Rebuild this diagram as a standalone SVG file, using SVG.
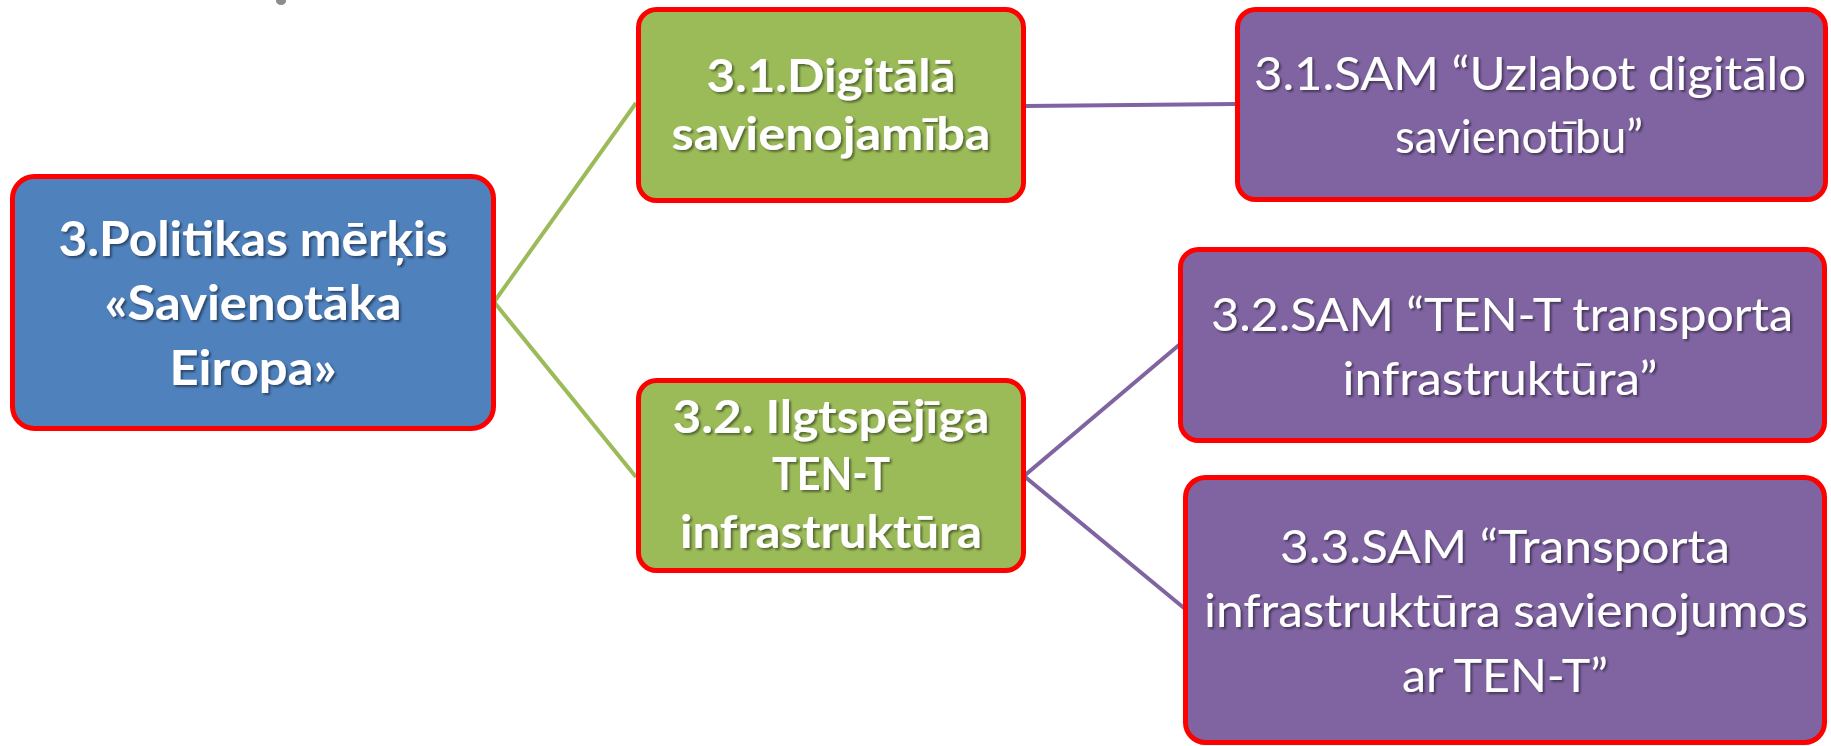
<svg xmlns="http://www.w3.org/2000/svg" width="1831" height="746" viewBox="0 0 1831 746">
<defs>
<filter id="ts" x="-10%" y="-20%" width="120%" height="140%">
<feDropShadow dx="2" dy="2" stdDeviation="1.2" flood-color="#000" flood-opacity="0.45"/>
</filter>
<style>
.box{stroke:#FF0000;stroke-width:5}
.blue{fill:#4F81BD}
.green{fill:#9BBB59}
.purple{fill:#8064A2}
text{fill:#FFFFFF;font-family:Lato,"Open Sans",sans-serif;text-anchor:middle;filter:url(#ts)}
.b{font-weight:bold}
.t1{font-size:48px}
.t2{font-size:46px}
.t3{font-size:47px}
.cg{stroke:#9BBB59;stroke-width:4;fill:none}
.cp{stroke:#8064A2;stroke-width:4;fill:none}
</style>
</defs>
<rect width="1831" height="746" fill="#FFFFFF"/>
<ellipse cx="281" cy="1" rx="5" ry="4" fill="#8C8C8C"/>
<g id="connectors">
<polyline class="cg" points="636,103 494,302 636,477"/>
<line class="cp" x1="1026" y1="106" x2="1236" y2="104"/>
<polyline class="cp" points="1179,345 1024,476 1184,608"/>
</g>
<g id="n_root">
<rect class="box blue" x="12.5" y="176.5" width="481" height="252" rx="22"/>
<text class="b t1" x="253" y="256" textLength="389" lengthAdjust="spacingAndGlyphs">3.Politikas mērķis</text>
<text class="b t1" x="253" y="320" textLength="297" lengthAdjust="spacingAndGlyphs">«Savienotāka</text>
<text class="b t1" x="253" y="385" textLength="167" lengthAdjust="spacingAndGlyphs">Eiropa»</text>
</g>
<g id="n_31">
<rect class="box green" x="638.5" y="9.5" width="385" height="191" rx="18"/>
<text class="b t2" x="831" y="92" textLength="249" lengthAdjust="spacingAndGlyphs">3.1.Digitālā</text>
<text class="b t2" x="831" y="150" textLength="319" lengthAdjust="spacingAndGlyphs">savienojamība</text>
</g>
<g id="n_32">
<rect class="box green" x="638.5" y="380.5" width="385" height="190" rx="18"/>
<text class="b t2" x="831" y="433" textLength="317" lengthAdjust="spacingAndGlyphs">3.2. Ilgtspējīga</text>
<text class="b t2" x="831" y="490" textLength="118" lengthAdjust="spacingAndGlyphs">TEN-T</text>
<text class="b t2" x="831" y="548" textLength="302" lengthAdjust="spacingAndGlyphs">infrastruktūra</text>
</g>
<g id="n_sam31">
<rect class="box purple" x="1237.5" y="9.5" width="588" height="190" rx="18"/>
<text class="t3" x="1530" y="90" textLength="552" lengthAdjust="spacingAndGlyphs">3.1.SAM “Uzlabot digitālo</text>
<text class="t3" x="1519" y="153" textLength="248" lengthAdjust="spacingAndGlyphs">savienotību”</text>
</g>
<g id="n_sam32">
<rect class="box purple" x="1180.5" y="249.5" width="644" height="191" rx="18"/>
<text class="t3" x="1502" y="331" textLength="582" lengthAdjust="spacingAndGlyphs">3.2.SAM “TEN-T transporta</text>
<text class="t3" x="1500" y="395" textLength="315" lengthAdjust="spacingAndGlyphs">infrastruktūra”</text>
</g>
<g id="n_sam33">
<rect class="box purple" x="1185.5" y="477.5" width="639" height="265" rx="20"/>
<text class="t3" x="1505" y="563" textLength="450" lengthAdjust="spacingAndGlyphs">3.3.SAM “Transporta</text>
<text class="t3" x="1506" y="627" textLength="604" lengthAdjust="spacingAndGlyphs">infrastruktūra savienojumos</text>
<text class="t3" x="1505" y="692" textLength="206" lengthAdjust="spacingAndGlyphs">ar TEN-T”</text>
</g>
</svg>
